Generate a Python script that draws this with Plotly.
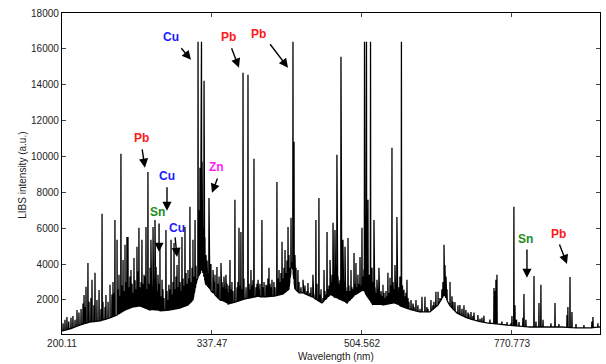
import numpy as np
import plotly.graph_objects as go

# x axis is detector channel; tick labels give wavelength (nm)
tick_ch = [0, 1000, 2000, 3000]
tick_labels = ["200.11", "337.47", "504.562", "770.773"]

# continuum / baseline (channel, intensity)
base_ch = [0, 53, 120, 187, 253, 320, 367, 420, 473, 520, 587, 653, 720, 787, 840, 873, 900, 933, 960,
           1000, 1053, 1107, 1160, 1220, 1287, 1353, 1420, 1473, 1513, 1533, 1553, 1580, 1607, 1667, 1733,
           1787, 1853, 1900, 1953, 2007, 2073, 2140, 2207, 2273, 2333, 2387, 2453, 2507, 2547, 2587,
           2633, 2700, 2767, 2833, 2900, 2967, 3033, 3120, 3233, 3333, 3433, 3520, 3587]
base_val = [270, 380, 600, 770, 830, 1000, 1160, 1440, 1610, 1670, 1440, 1390, 1440, 1550, 1720, 2000,
            3120, 3670, 2840, 2450, 2000, 1780, 1890, 2060, 2170, 2170, 2220, 2330, 2600, 4100, 2600,
            2400, 2390, 2170, 1830, 2280, 2000, 1830, 2280, 2560, 1720, 1720, 1830, 1610, 1440, 1330, 1330,
            1720, 2280, 1670, 1270, 1000, 830, 720, 660, 600, 550, 490, 490, 490, 440, 440, 490]

# strong emission lines (channel, peak intensity)
peak_ch = [33, 100, 147, 160, 173, 200, 220, 247, 267, 293, 320, 353, 367, 380, 393, 407, 420, 433, 440,
           460, 480, 500, 513, 533, 547, 560, 573, 593, 607, 620, 627, 640, 653, 667, 693, 713, 727, 747,
           767, 780, 800, 820, 840, 853, 873, 887, 907, 920, 930, 934, 947, 960, 980, 1007, 1033, 1060,
           1093, 1120, 1153, 1180, 1193, 1207, 1240, 1260, 1280, 1307, 1333, 1360, 1380, 1400, 1433,
           1447, 1467, 1487, 1507, 1527, 1540, 1547, 1573, 1607, 1640, 1673, 1693, 1713, 1747, 1767,
           1787, 1807, 1820, 1833, 1860, 1873, 1887, 1907, 1927, 1947, 1960, 1973, 1987, 2000, 2017,
           2030, 2040, 2057, 2067, 2080, 2100, 2113, 2140, 2173, 2187, 2200, 2220, 2233, 2263, 2280,
           2300, 2327, 2360, 2400, 2420, 2460, 2493, 2507, 2547, 2553, 2587, 2620, 2653, 2693, 2727,
           2773, 2813, 2880, 2893, 2900, 2967, 3013, 3047, 3080, 3147, 3180, 3193, 3287, 3367, 3387,
           3400, 3540]
peak_val = [1050, 1440, 2280, 2730, 4060, 3120, 3510, 2560, 6800, 2280, 2840, 6460, 5350, 3400, 10150,
            4230, 5070, 5510, 5510, 3670, 4340, 4960, 6020, 5350, 3400, 6070, 9140, 5350, 6070, 6460,
            3840, 3400, 4960, 3120, 5900, 2840, 5350, 5180, 3950, 4790, 5510, 6070, 3670, 7190, 5350,
            6460, 16400, 9370, 16400, 9700, 14220, 4510, 7690, 3670, 3840, 4060, 3400, 4230, 7580, 6020,
            5790, 14670, 14560, 3670, 9870, 3120, 6460, 2840, 3790, 3120, 8580, 3670, 5240, 4790, 6070,
            6580, 16400, 10820, 3670, 3120, 2950, 3400, 6460, 7690, 3670, 5790, 4230, 6300, 5900, 10090,
            15560, 5350, 4960, 5460, 3670, 4620, 4060, 3400, 4400, 6020, 16400, 16400, 7580, 16400, 3790,
            6460, 3120, 3790, 2840, 3510, 3230, 10480, 3950, 6630, 16400, 2560, 3120, 2000, 2000, 2170,
            2170, 2000, 2450, 2450, 5070, 3950, 3000, 1890, 1720, 1440, 1330, 1160, 1110, 2670, 3120,
            3400, 770, 7190, 770, 2330, 3340, 1830, 2840, 1830, 1160, 3280, 1330, 1050]

# weak lines / noise spikes on the continuum (channel, intensity)
minor_ch = [7, 20, 45, 60, 73, 87, 113, 127, 140, 153, 180, 193, 213, 233, 260, 273, 287, 307, 333, 340,
            347, 373, 387, 400, 413, 427, 447, 453, 467, 473, 487, 493, 507, 520, 527, 540, 553, 567,
            580, 587, 600, 613, 633, 647, 660, 673, 680, 700, 707, 720, 733, 740, 753, 760, 773, 787,
            793, 807, 813, 827, 833, 847, 860, 867, 880, 893, 913, 917, 925, 940, 953, 967, 973, 987,
            993, 1013, 1020, 1040, 1047, 1067, 1073, 1080, 1087, 1100, 1107, 1113, 1127, 1133, 1140,
            1167, 1173, 1187, 1200, 1213, 1227, 1247, 1253, 1267, 1273, 1293, 1300, 1313, 1320, 1340,
            1347, 1367, 1373, 1387, 1393, 1413, 1420, 1440, 1453, 1460, 1473, 1480, 1493, 1500, 1513,
            1520, 1553, 1560, 1580, 1593, 1613, 1620, 1633, 1653, 1660, 1680, 1700, 1720, 1727, 1740,
            1753, 1760, 1773, 1780, 1793, 1800, 1813, 1827, 1840, 1847, 1853, 1867, 1880, 1893, 1900,
            1913, 1920, 1933, 1940, 1953, 1967, 1980, 1993, 2007, 2013, 2023, 2047, 2053, 2073, 2087,
            2093, 2107, 2120, 2127, 2133, 2147, 2153, 2160, 2167, 2180, 2193, 2207, 2213, 2227, 2240,
            2247, 2253, 2270, 2287, 2293, 2307, 2313, 2340, 2347, 2373, 2387, 2433, 2440, 2473, 2480,
            2520, 2533, 2540, 2560, 2567, 2600, 2607, 2640, 2667, 2680, 2707, 2713, 2740, 2747, 2787,
            2800, 2853, 2887, 2933, 2993, 3000, 3020, 3030, 3073, 3093, 3160, 3207, 3260, 3313, 3373,
            3427, 3480, 3533, 3573]
minor_val = [700, 900, 800, 1000, 1100, 900, 1300, 1500, 1800, 1600, 1900, 2100, 1700, 2000, 1500, 1900,
             1600, 1900, 2300, 3000, 2400, 2600, 2200, 2800, 2500, 3000, 2700, 3300, 2900, 2400, 3100,
             2600, 3600, 2700, 3000, 2900, 3300, 2600, 2900, 3800, 2700, 3200, 2500, 2900, 2200, 2600,
             2100, 2500, 2000, 2600, 2300, 3000, 2600, 3300, 2700, 3000, 2500, 3200, 2800, 3500, 2900,
             3200, 3000, 3800, 3300, 3900, 5000, 7000, 8000, 6000, 5500, 4200, 3500, 3300, 4000, 3000,
             3400, 2900, 3300, 3000, 2700, 3300, 2600, 2900, 2400, 2800, 2600, 3000, 2500, 2700, 3000,
             2800, 2600, 3200, 2700, 2900, 2600, 2800, 3100, 2700, 2900, 2600, 2900, 2700, 3000, 2800,
             3200, 2900, 2700, 3000, 2700, 3200, 3000, 3500, 3200, 3800, 3500, 4200, 4500, 3800, 4500,
             3800, 3000, 2700, 2600, 2800, 2500, 2400, 2700, 2300, 2900, 2300, 2600, 2100, 2500, 2300,
             2600, 2800, 3000, 3400, 3100, 2800, 3300, 2900, 3100, 2700, 3000, 2700, 2500, 2800, 2500,
             2700, 2600, 2900, 2700, 2900, 2800, 3300, 3700, 3200, 3400, 3000, 3000, 2700, 2400, 2600,
             2300, 2500, 2200, 2400, 2100, 2500, 2200, 2400, 2800, 3000, 2600, 2900, 2400, 2700, 3300,
             2800, 2200, 2400, 2100, 1900, 1800, 1600, 1700, 1500, 1600, 1500, 1700, 1900, 2100, 2600,
             3000, 3300, 2600, 2200, 1900, 1700, 1500, 1700, 1300, 1200, 1100, 1300, 950, 1000, 900,
             2500, 800, 700, 1100, 1700, 900, 1000, 900, 800, 900, 700, 650, 1600, 650, 600, 800, 700]

# element labels: text, colour, label position, arrow tail, arrow head
lab_text = ["Cu", "Pb", "Pb", "Pb", "Cu", "Sn", "Cu", "Zn", "Sn", "Pb"]
lab_color = ["#1a1aff", "#ff1a1a", "#ff1a1a", "#ff1a1a", "#1a1aff", "#1a8c1a", "#1a1aff", "#ff1aff",
             "#1a8c1a", "#ff1a1a"]
lab_x = [727, 1113, 1313, 527, 700, 640, 767, 1033, 3093, 3307]
lab_y = [16680, 16680, 16840, 11040, 8920, 6910, 6020, 9420, 5400, 5680]
arr_tail_x = [787, 1127, 1380, 533, 700, 647, 753, 1040, 3100, 3313]
arr_tail_y = [16120, 16120, 16340, 10480, 8360, 6350, 5570, 8860, 4900, 5180]
arr_head_x = [860, 1180, 1507, 553, 700, 647, 767, 1000, 3100, 3367]
arr_head_y = [15390, 14950, 14950, 9370, 6970, 4680, 4400, 7970, 3230, 4010]

# assemble the spectrum trace from continuum + line lists
w = 1.5
xs = list(base_ch)
ys = list(base_val)
for c, v in zip(peak_ch + minor_ch, peak_val + minor_val):
    for dx in (-w, w):
        xs.append(c + dx)
        ys.append(float(np.interp(c + dx, base_ch, base_val)))
    xs.append(c)
    ys.append(v)
order = np.argsort(np.array(xs), kind="stable")
xs = np.array(xs)[order]
ys = np.array(ys)[order]

fig = go.Figure()
fig.add_trace(go.Scatter(x=xs, y=ys, mode="lines", line=dict(color="black", width=1.3),
                         hoverinfo="skip", showlegend=False))

ann = []
for t, col, x, y in zip(lab_text, lab_color, lab_x, lab_y):
    ann.append(dict(x=x, y=y, xref="x", yref="y", text="<b>%s</b>" % t, showarrow=False,
                    font=dict(family="Arial, Liberation Sans", size=12, color=col)))
for tx, ty, hx, hy in zip(arr_tail_x, arr_tail_y, arr_head_x, arr_head_y):
    ann.append(dict(x=hx, y=hy, ax=tx, ay=ty, xref="x", yref="y", axref="x", ayref="y", text="",
                    showarrow=True, arrowhead=2, arrowsize=1.3, arrowwidth=1.4, arrowcolor="black",
                    standoff=0, startstandoff=0))
ann.append(dict(x=0.509, y=-0.07, xref="paper", yref="paper", text="Wavelength (nm)", showarrow=False,
                yanchor="middle", xanchor="center",
                font=dict(family="Arial, Liberation Sans", size=10, color="#222")))
ann.append(dict(x=-0.075, y=0.495, xref="paper", yref="paper", text="LIBS intensity (a.u.)",
                showarrow=False, textangle=-90, xanchor="center", yanchor="middle",
                font=dict(family="Arial, Liberation Sans", size=10, color="#222")))

fig.update_layout(
    width=606, height=364,
    margin=dict(l=62, r=6, t=13, b=30),
    paper_bgcolor="white", plot_bgcolor="white",
    annotations=ann,
    xaxis=dict(range=[0, 3587], tickvals=tick_ch, ticktext=tick_labels, ticks="inside", ticklen=4,
               showline=True, linecolor="black", linewidth=1.3, mirror="ticks", showgrid=False,
               zeroline=False, tickfont=dict(family="Arial, Liberation Sans", size=10, color="#222")),
    yaxis=dict(range=[100, 18000], tickvals=list(range(2000, 18001, 2000)), tickformat="d",
               ticks="inside", ticklen=4,
               showline=True, linecolor="black", linewidth=1.3, mirror="ticks", showgrid=False,
               zeroline=False, tickfont=dict(family="Arial, Liberation Sans", size=10, color="#222")),
)
fig.write_html("out.html", post_script="document.body.style.margin='0';",
               config={"displayModeBar": False})
